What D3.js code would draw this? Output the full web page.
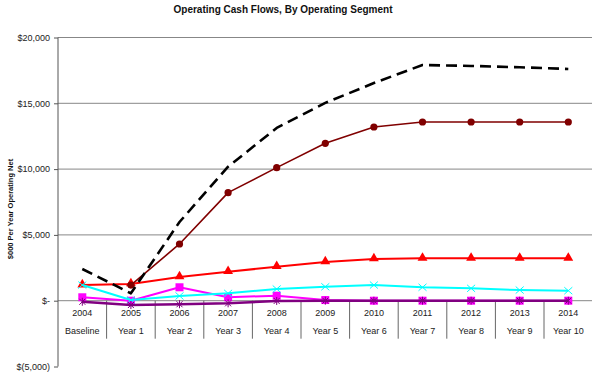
<!DOCTYPE html>
<html>
<head>
<meta charset="utf-8">
<script src="https://cdn.jsdelivr.net/npm/d3@7"></script>
<style>
  body { margin: 0; background: #fff; }
  svg { font-family: "Liberation Sans", Arial, sans-serif; }
  .axis path { display: none; }
  .axis text { fill: #222; font-size: 9px; }
</style>
</head>
<body>
<svg id="chart" width="592" height="384"></svg>
<script>
var years = ["2004", "2005", "2006", "2007", "2008", "2009", "2010", "2011", "2012", "2013", "2014"];
var periods = ["Baseline", "Year 1", "Year 2", "Year 3", "Year 4", "Year 5", "Year 6", "Year 7", "Year 8", "Year 9", "Year 10"];

var yTicks = [-5000, 0, 5000, 10000, 15000, 20000];
var yTickLabels = ["$(5,000)", "$-", "$5,000", "$10,000", "$15,000", "$20,000"];

// series values, $000
var redVals     = [1190, 1270, 1800, 2200, 2580, 2940, 3170, 3220, 3220, 3220, 3220];
var darkRedVals = [null, 1190, 4310, 8210, 10110, 11960, 13200, 13580, 13580, 13580, 13580];
var magentaVals = [260, 0, 1020, 260, 380, 50, 0, 0, 0, 0, 0];
var cyanVals    = [1190, 50, 360, 560, 890, 1060, 1190, 1020, 940, 810, 760];
var purpleVals  = [-80, -330, -270, -200, -20, 0, 0, 0, 0, 0, 0];
var totalVals   = [2410, 560, 5980, 10180, 13130, 15030, 16540, 17910, 17840, 17740, 17610];

var series = [
  {name: "red",     values: redVals,     color: "#ff0000", width: 2,   marker: "triangle"},
  {name: "darkred", values: darkRedVals, color: "#800000", width: 1.6, marker: "circle"},
  {name: "magenta", values: magentaVals, color: "#ff00ff", width: 2,   marker: "square"},
  {name: "cyan",    values: cyanVals,    color: "#00ffff", width: 2,   marker: "x"},
  {name: "purple",  values: purpleVals,  color: "#800080", width: 2.5, marker: "star"},
  {name: "total",   values: totalVals,   color: "#000000", width: 2.6, marker: null, dash: "11,6"}
];

var svg = d3.select("#chart");

var plot = {left: 58, right: 592.6, top: 37.5, bottom: 366.5};

var x = d3.scaleBand()
    .domain(years)
    .range([plot.left, plot.right])
    .padding(0);

var y = d3.scaleLinear()
    .domain([-5000, 20000])
    .range([plot.bottom, plot.top]);

function cx(i) { return x(years[i]) + x.bandwidth() / 2; }

// title
svg.append("text")
    .attr("x", 283)
    .attr("y", 13)
    .attr("text-anchor", "middle")
    .style("font-size", "10px")
    .style("font-weight", "bold")
    .style("fill", "#111")
    .text("Operating Cash Flows, By Operating Segment");

// y axis title
svg.append("text")
    .attr("transform", "translate(13,209) rotate(-90)")
    .attr("text-anchor", "middle")
    .style("font-size", "7.5px")
    .style("font-weight", "bold")
    .style("fill", "#111")
    .text("$000 Per Year Operating Net");

// gridlines
svg.append("g")
    .selectAll("line")
    .data(yTicks.filter(function(d) { return d !== -5000; }))
  .enter().append("line")
    .attr("x1", plot.left)
    .attr("x2", plot.right)
    .attr("y1", function(d) { return y(d); })
    .attr("y2", function(d) { return y(d); })
    .style("stroke", "#878787")
    .style("stroke-width", 1);

// y axis
var yAxis = d3.axisLeft(y)
    .tickValues(yTicks)
    .tickSize(4)
    .tickPadding(4)
    .tickFormat(function(d, i) { return yTickLabels[i]; });

var gy = svg.append("g")
    .attr("class", "axis")
    .attr("transform", "translate(" + plot.left + ",0)")
    .call(yAxis);
gy.selectAll("line").style("stroke", "#555");

svg.append("line")
    .attr("x1", plot.left).attr("x2", plot.left)
    .attr("y1", plot.top).attr("y2", plot.bottom)
    .style("stroke", "#555");

// category dividers
svg.append("g")
    .selectAll("line")
    .data(years.slice(1))
  .enter().append("line")
    .attr("x1", function(d) { return x(d); })
    .attr("x2", function(d) { return x(d); })
    .attr("y1", y(0))
    .attr("y2", y(0) + 38)
    .style("stroke", "#666");

// x axis rows
var xAxis = d3.axisBottom(x).tickSize(0).tickPadding(9);
var gx = svg.append("g")
    .attr("class", "axis")
    .attr("transform", "translate(0," + y(0) + ")")
    .call(xAxis);
gx.selectAll("line").remove();

var xAxis2 = d3.axisBottom(x).tickSize(0).tickPadding(27)
    .tickFormat(function(d, i) { return periods[i]; });
var gx2 = svg.append("g")
    .attr("class", "axis")
    .attr("transform", "translate(0," + y(0) + ")")
    .call(xAxis2);
gx2.selectAll("line").remove();

// lines
var line = d3.line()
    .defined(function(d) { return d != null; })
    .x(function(d, i) { return cx(i); })
    .y(function(d) { return y(d); });

function drawMarker(g, type, color, px, py) {
  if (type === "triangle") {
    g.append("path")
      .attr("d", d3.symbol().type(d3.symbolTriangle).size(42)())
      .attr("transform", "translate(" + px + "," + (py - 0.5) + ")")
      .style("fill", color);
  } else if (type === "circle") {
    g.append("circle")
      .attr("cx", px).attr("cy", py).attr("r", 3.6)
      .style("fill", color);
  } else if (type === "square") {
    g.append("rect")
      .attr("x", px - 4).attr("y", py - 4)
      .attr("width", 8).attr("height", 8)
      .style("fill", color);
  } else if (type === "x") {
    g.append("path")
      .attr("d", "M" + (px - 4) + "," + (py - 3.5) + "L" + (px + 4) + "," + (py + 3.5) +
                 "M" + (px - 4) + "," + (py + 3.5) + "L" + (px + 4) + "," + (py - 3.5))
      .style("stroke", color)
      .style("stroke-width", 1);
  } else if (type === "star") {
    g.append("path")
      .attr("d", "M" + (px - 3) + "," + (py - 3) + "L" + (px + 3) + "," + (py + 3) +
                 "M" + (px - 3) + "," + (py + 3) + "L" + (px + 3) + "," + (py - 3) +
                 "M" + px + "," + (py - 4) + "L" + px + "," + (py + 4))
      .style("stroke", color)
      .style("stroke-width", 1);
  }
}

series.forEach(function(s) {
  var g = svg.append("g").attr("class", "series " + s.name);
  g.append("path")
    .datum(s.values)
    .attr("d", line)
    .style("fill", "none")
    .style("stroke", s.color)
    .style("stroke-width", s.width)
    .style("stroke-dasharray", s.dash || null)
    .style("stroke-linejoin", "round");
  if (s.marker) {
    s.values.forEach(function(v, i) {
      if (v == null) return;
      drawMarker(g, s.marker, s.color, cx(i), y(v));
    });
  }
});
</script>
</body>
</html>
